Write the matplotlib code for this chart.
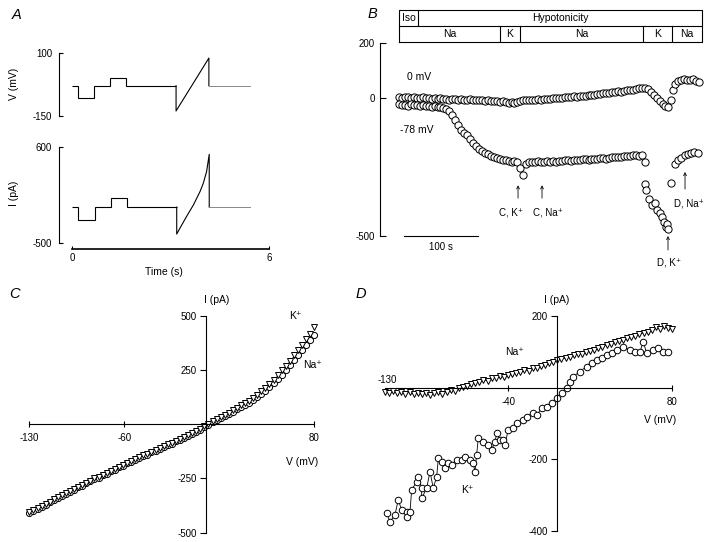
import matplotlib.pyplot as plt
import numpy as np

plt.rcParams["font.family"] = ["Liberation Sans", "DejaVu Sans"]
plt.rcParams["font.size"] = 7.5
plt.rcParams["axes.unicode_minus"] = False
plt.rcParams["axes.linewidth"] = 0.8

W, H = 720, 542

# ---- A: voltage protocol (mV) and current response (pA) vs time (s) ----
A_V_EDGES = [0.0, 0.17, 0.67, 1.15, 1.64, 3.17]
A_V_LEVELS = [-30, -78, -30, 0, -30]
A_V_RAMP_T = [3.17, 4.17]
A_V_RAMP = [-130, 80]
A_V_TAIL_T = [4.17, 5.42]

A_I_EDGES = [0.0, 0.19, 0.70, 1.18, 1.67, 3.19]
A_I_LEVELS = [-90, -242, -90, 12, -90]
A_I_RAMP_T = [3.19, 3.29, 3.49, 3.70, 3.90, 4.00, 4.10, 4.18]
A_I_RAMP = [-398, -329, -197, -64, 88, 183, 316, 513]
A_I_TAIL_T = [4.18, 5.42]

# ---- B: current (pA) at 0 mV and -78 mV over time, sampled every 4 s ----
B_DT = 4.0
B_I_0MV = [4, 2, 5, 3, 1, 4, 2, 0, 3, 1,
           0, -2, 1, -3, -1, -4, -2, -5, -3, -4, -6, -3, -5, -7, -4, -6, -8, -5, -7, -9, -8,
           -10, -12, -11, -13, -12,
           -15, -18, -14, -17, -13, -10,
           -8, -6, -7, -5, -6, -4, -5, -3, -4, -2, -1,
           0, 2, 1, 3, 4, 5, 6, 5, 7, 8, 9,
           11, 13, 12, 15, 16, 17, 19, 18, 21,
           23, 25, 24, 27, 29, 28, 31, 33, 35,
           37, 36, 32,
           22, 12, 2, -10, -20,
           -28, -31]
B_T_0MV_END = [367, 370, 373, 377, 381, 385, 389, 393, 397, 401, 405]
B_I_0MV_END = [-5, 30, 52, 62, 66, 70, 64, 67, 68, 62, 60]

B_I_78MV = [-22, -25, -24, -27, -23, -26, -25, -28, -26, -29, -30,
            -31, -30, -33, -32, -36, -40,
            -48, -60, -78, -98, -114, -126, -134,
            -150, -163, -175, -184, -192, -198,
            -204, -209, -213, -217, -220, -223, -226,
            -228, -230, -229, -233, -255,
            -278,
            -238, -232, -230, -231, -229, -232, -230, -228, -231, -229, -230, -228, -227,
            -226, -225, -227, -224, -223, -225, -222, -221, -223, -220, -219, -221, -218,
            -217, -219, -216, -215,
            -214, -212, -213, -210, -209, -211, -208, -207, -209, -206,
            -233]
B_T_78MV_K = [332, 334, 338, 342, 346, 349, 353, 355, 358, 361, 362, 364]
B_I_78MV_K = [-312, -334, -366, -388, -381, -406, -417, -431, -449, -468, -456, -475]
B_T_78MV_NA = [368, 373, 377, 381, 386, 390, 395, 399, 404]
B_I_78MV_NA = [-309, -240, -226, -216, -208, -203, -199, -196, -200]

B_TOP_ROW = [("Iso", 0, 26.1), ("Hypotonicity", 26.1, 409.4)]
B_BOTTOM_ROW = [("Na", 0, 136.5), ("K", 136.5, 163.5), ("Na", 163.5, 329.2),
                ("K", 329.2, 368.4), ("Na", 368.4, 409.4)]

# ---- C: I-V ramps (pA vs mV), sampled every 3 mV from -130 to 80 ----
C_V = np.arange(-130, 81, 3)
C_I_NA = [-410, -401, -392, -380, -371, -360, -350, -341, -331, -321, -311, -302,
          -290, -283, -271, -264, -253, -246, -235, -228, -217, -210, -198, -191,
          -181, -174, -164, -158, -147, -140, -129, -122, -112, -105, -95, -89,
          -79, -73, -62, -56, -45, -35, -25, -14, -3, 9, 19, 28, 37, 46, 57, 68,
          79, 90, 100, 111, 124, 139, 155, 172, 190, 209, 229, 250, 271, 294,
          317, 341, 365, 389, 412]
C_I_K = [-405, -397, -386, -377, -366, -357, -346, -337, -327, -318, -307, -299,
         -288, -279, -269, -261, -250, -243, -232, -224, -214, -206, -196, -187,
         -178, -170, -161, -153, -144, -136, -126, -118, -109, -101, -92, -85,
         -76, -68, -59, -51, -41, -31, -20, -9, 2, 14, 24, 34, 43, 53, 64, 75,
         87, 98, 109, 121, 136, 152, 169, 187, 206, 226, 248, 270, 293, 317,
         341, 366, 391, 418, 448]

# ---- D: I-V ramps in K+ (circles) and Na+ (triangles) ----
D_V_NA = np.arange(-130, 81, 3)
D_I_NA = [-10, -14, -8, -15, -11, -16, -12, -17, -13, -18, -14, -19, -15, -12,
          -16, -10, -6, -8, 0, 4, 6, 12, 14, 17, 22, 20, 27, 29, 33, 31, 37,
          40, 43, 45, 50, 48, 56, 55, 62, 64, 70, 73, 78, 81, 84, 88, 91, 95,
          96, 100, 103, 107, 111, 115, 120, 124, 128, 131, 135, 139, 142, 146,
          150, 154, 158, 163, 170, 166, 172, 168, 164]
D_V_K = [-128.8, -126.3, -122.7, -120.3, -117.8, -114.1, -114.1, -111.7, -110.5,
         -106.8, -105.6, -103.2, -103.2, -99.5, -97.1, -94.7, -92.2, -91.0, -88.6,
         -86.1, -83.7, -81.2, -77.6, -73.9, -71.5, -67.9, -65.5, -64.2, -63.0,
         -61.8, -58.1, -54.5, -52.0, -49.6, -48.3, -45.9, -43.5, -42.3, -39.9,
         -36.2, -33.7, -28.9, -26.4, -21.6, -19.1, -15.5, -11.8, -8.2, -4.5, -0.8,
         2.8, 5.2, 7.7, 12.5, 17.4, 21.1, 24.7, 28.4, 32.0, 35.7, 39.4, 44.2, 49.1,
         52.7, 56.4, 58.8, 61.3, 66.1, 69.8, 73.4, 77.1]
D_I_K = [-351, -374, -355, -313, -341, -346, -360, -346, -285, -262, -248, -280,
         -309, -280, -234, -280, -248, -197, -206, -225, -211, -215, -201, -201,
         -192, -201, -211, -234, -187, -141, -150, -159, -173, -150, -127, -145,
         -145, -159, -117, -113, -99, -90, -80, -71, -76, -57, -52, -43, -29, -15,
         0, 18, 32, 46, 60, 69, 78, 83, 92, 97, 106, 116, 106, 101, 101, 130, 97,
         106, 111, 101, 101]


def px_axes(fig, left, top, right, bottom):
    return fig.add_axes([left / W, 1 - bottom / H, (right - left) / W, (bottom - top) / H])


def px_text(fig, x, y, s, **kw):
    kw.setdefault("ha", "center")
    kw.setdefault("va", "center")
    fig.text(x / W, 1 - y / H, s, **kw)


def only_spines(ax, keep):
    for name, sp in ax.spines.items():
        sp.set_visible(name in keep)


fig = plt.figure(figsize=(7.2, 5.42), dpi=100)
ring = dict(marker="o", mfc="white", mec="black", mew=0.7, ls="none")

# ---------------- A ----------------
axv = px_axes(fig, 59, 53, 280, 116)
axv.set_xlim(-0.396, 6.336)
axv.set_ylim(-150, 100)
only_spines(axv, ["left"])
axv.set_xticks([])
axv.set_yticks([-150, 100])
axv.tick_params(axis="y", direction="in", length=3, width=0.8, pad=5, labelsize=7)
axv.stairs(A_V_LEVELS, A_V_EDGES, baseline=None, color="black", lw=0.8)
axv.plot([A_V_RAMP_T[0]] + A_V_RAMP_T + [A_V_RAMP_T[-1]],
         [A_V_LEVELS[-1]] + A_V_RAMP + [A_V_LEVELS[-1]], color="black", lw=0.8)
axv.plot(A_V_TAIL_T, [A_V_LEVELS[-1]] * 2, color="#888888", lw=0.7)

axi = px_axes(fig, 59, 146.7, 280, 243)
axi.set_xlim(-0.396, 6.336)
axi.set_ylim(-500, 600)
only_spines(axi, ["left", "bottom"])
axi.spines["bottom"].set_position(("outward", 4.3))
axi.spines["bottom"].set_bounds(0, 6)
axi.spines["bottom"].set_linewidth(1.2)
axi.set_yticks([-500, 600])
axi.set_xticks([0, 6])
axi.tick_params(axis="y", direction="in", length=3, width=0.8, pad=5, labelsize=7)
axi.tick_params(axis="x", direction="in", length=2, width=0.8, pad=3, labelsize=7)
axi.stairs(A_I_LEVELS, A_I_EDGES, baseline=None, color="black", lw=0.8)
axi.plot([A_I_RAMP_T[0]] + A_I_RAMP_T + [A_I_RAMP_T[-1]],
         [A_I_LEVELS[-1]] + A_I_RAMP + [A_I_LEVELS[-1]], color="black", lw=0.8)
axi.plot(A_I_TAIL_T, [A_I_LEVELS[-1]] * 2, color="#888888", lw=0.7)

px_text(fig, 14, 84, "V (mV)", rotation=90)
px_text(fig, 14, 193, "I (pA)", rotation=90)
px_text(fig, 164, 272, "Time (s)")

# ---------------- B ----------------
axb = px_axes(fig, 380, 43, 705, 275)
axb.set_xlim(-25.7, 413.4)
axb.set_ylim(-641.6, 200)
only_spines(axb, ["left"])
axb.spines["left"].set_bounds(-500, 200)
axb.set_xticks([])
axb.set_yticks([-500, 0, 200])
axb.tick_params(axis="y", direction="in", length=4.5, width=0.8, pad=3.5, labelsize=7)

t0 = np.arange(len(B_I_0MV)) * B_DT
t78 = np.arange(len(B_I_78MV)) * B_DT
axb.plot(t0, B_I_0MV, ms=5.2, **ring)
axb.plot(B_T_0MV_END, B_I_0MV_END, ms=5.2, **ring)
axb.plot(t78, B_I_78MV, ms=5.2, **ring)
axb.plot(B_T_78MV_K, B_I_78MV_K, ms=5.2, **ring)
axb.plot(B_T_78MV_NA, B_I_78MV_NA, ms=5.2, **ring)

axb.text(10.8, 77, "0 mV", ha="left", va="center")
axb.text(1.4, -116, "-78 mV", ha="left", va="center")
axb.plot([6.8, 106.8], [-500, -500], color="black", lw=0.8)
axb.text(56.8, -540, "100 s", ha="center", va="center", fontsize=7)

arrow = dict(arrowstyle="->", lw=0.6, color="black", shrinkA=0, shrinkB=0,
             mutation_scale=5)
for t, tip, tail, label, tx, ty in [
    (160.8, -316, -363, "C, K⁺", 151.3, -414),
    (193.2, -316, -363, "C, Na⁺", 201.3, -414),
    (363.4, -500, -551, "D, K⁺", 364.8, -598),
    (386.4, -268, -330, "D, Na⁺", 392.0, -384),
]:
    axb.annotate("", xy=(t, tip), xytext=(t, tail), arrowprops=arrow)
    axb.text(tx, ty, label, ha="center", va="center", fontsize=7)

axt = px_axes(fig, 380, 10, 705, 41.5)
axt.set_xlim(-25.7, 413.4)
axt.set_ylim(0, 2)
axt.axis("off")
x_end = B_TOP_ROW[-1][2]
axt.plot([0, x_end, x_end, 0, 0], [0, 0, 2, 2, 0], color="black", lw=0.8, clip_on=False)
axt.plot([0, x_end], [1, 1], color="black", lw=0.8)
for label, a, b in B_TOP_ROW:
    if a > 0:
        axt.plot([a, a], [1, 2], color="black", lw=0.8)
    axt.text((a + b) / 2, 1.5, label, ha="center", va="center")
for label, a, b in B_BOTTOM_ROW:
    if a > 0:
        axt.plot([a, a], [0, 1], color="black", lw=0.8)
    axt.text((a + b) / 2, 0.5, label, ha="center", va="center")

# ---------------- C ----------------
axc = px_axes(fig, 20, 300, 330, 540)
axc.set_xlim(-136.9, 91.6)
axc.set_ylim(-533.6, 572.4)
only_spines(axc, ["left", "bottom"])
axc.spines["left"].set_position(("data", 0))
axc.spines["bottom"].set_position(("data", 0))
axc.spines["left"].set_bounds(-500, 500)
axc.spines["bottom"].set_bounds(-130, 80)
axc.set_yticks([-500, -250, 250, 500])
axc.set_xticks([-130, -60, 80])
axc.tick_params(axis="y", direction="out", length=4.5, width=0.8, pad=1.7, labelsize=7)
axc.tick_params(axis="x", direction="inout", length=4, width=0.8, pad=4.3, labelsize=7)
axc.plot(C_V, C_I_NA, marker="o", ms=4.4, mfc="white", mec="black", mew=0.7, ls="none")
axc.plot(C_V, C_I_K, marker="v", ms=4.7, mfc="white", mec="black", mew=0.7, ls="none")
px_text(fig, 217, 300, "I (pA)")
px_text(fig, 302, 462, "V (mV)")
px_text(fig, 295, 316, "K⁺")
px_text(fig, 312, 365, "Na⁺")

# ---------------- D ----------------
axd = px_axes(fig, 365, 295, 700, 540)
axd.set_xlim(-144.6, 100.3)
axd.set_ylim(-425.2, 260.1)
only_spines(axd, ["left", "bottom"])
axd.spines["left"].set_position(("data", -4))
axd.spines["bottom"].set_position(("data", 0))
axd.spines["left"].set_bounds(-400, 200)
axd.spines["bottom"].set_bounds(-130, 80)
axd.set_yticks([-400, -200, 200])
axd.set_xticks([-40, 80])
axd.tick_params(axis="y", direction="out", length=4.5, width=0.8, pad=2.5, labelsize=7)
axd.tick_params(axis="x", direction="inout", length=4, width=0.8, pad=4.5, labelsize=7)
axd.plot(D_V_NA, D_I_NA, marker="v", ms=4.7, mfc="white", mec="black", mew=0.7,
         color="black", lw=0.5)
axd.plot(D_V_K, D_I_K, marker="o", ms=4.7, mfc="white", mec="black", mew=0.7,
         color="black", lw=0.6)
axd.text(-128.5, 22, "-130", ha="center", va="center", fontsize=7)
px_text(fig, 557, 300, "I (pA)")
px_text(fig, 660, 420, "V (mV)")
px_text(fig, 515, 352, "Na⁺")
px_text(fig, 467, 490, "K⁺")

# panel letters
for x, y, s in [(17, 15, "A"), (372, 14, "B"), (14, 294, "C"), (361, 294, "D")]:
    px_text(fig, x, y, s, fontsize=10.5, style="italic")

fig.savefig("out.png", dpi=100)
